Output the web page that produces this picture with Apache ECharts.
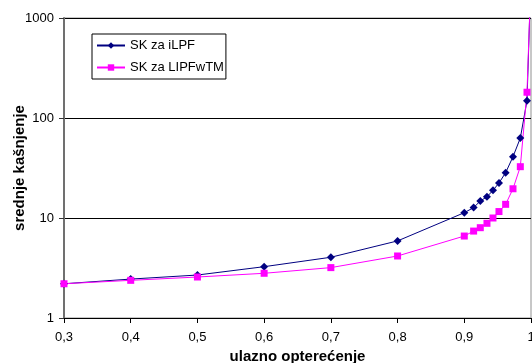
<!DOCTYPE html>
<html><head><meta charset="utf-8">
<script src="https://cdn.jsdelivr.net/npm/echarts@6/dist/echarts.min.js"></script>
<style>html,body{margin:0;padding:0;background:#fff}#c{width:532px;height:363px}</style>
</head><body><div id="c"></div>
<script>
var loadX = [0.3, 0.4, 0.5, 0.6, 0.7, 0.8, 0.9, 0.914, 0.924, 0.934, 0.943, 0.952, 0.962, 0.973, 0.984, 0.994, 1.0];
var skILPF = [2.2, 2.45, 2.69, 3.26, 4.05, 5.9, 11.3, 12.7, 14.8, 16.3, 18.9, 22.4, 28.4, 41, 63, 149, 2700];
var skLIPFwTM = [2.2, 2.38, 2.57, 2.8, 3.19, 4.17, 6.6, 7.4, 8.0, 8.85, 10.0, 11.6, 13.7, 19.6, 32.6, 181, 2600];
var seriesNames = ['SK za iLPF', 'SK za LIPFwTM'];
var xTitle = 'ulazno opterećenje';
var yTitle = 'srednje kašnjenje';

function pairs(xs, ys){ return xs.map(function(x,i){ return [x, ys[i]]; }); }
var font = 'Liberation Sans, Arial, sans-serif';
var chart = echarts.init(document.getElementById('c'), null, {renderer:'canvas'});
chart.setOption({
  animation:false,
  backgroundColor:'#fff',
  grid:{left:64, right:1, top:18, bottom:45, show:true, borderColor:'#909090', borderWidth:1,
        backgroundColor:'transparent', containLabel:false, outerBoundsMode:'none'},
  legend:{
    orient:'vertical', left:92, top:34, itemWidth:28, itemHeight:8, itemGap:9,
    padding:[5,2,5,4], borderColor:'#000', borderWidth:1, backgroundColor:'#fff',
    textStyle:{fontFamily:font, fontSize:13, color:'#000'},
    data:seriesNames
  },
  xAxis:{
    type:'value', min:0.3, max:1.0, interval:0.1,
    name:xTitle, nameLocation:'middle', nameGap:31, nameMoveOverlap:false,
    nameTextStyle:{fontFamily:font, fontSize:15, fontWeight:'bold', color:'#000'},
    axisLine:{lineStyle:{color:'#000', width:1}},
    axisTick:{show:true, length:5, lineStyle:{color:'#000'}},
    axisLabel:{fontFamily:font, fontSize:13, color:'#000', margin:13,
      formatter:function(v){ return (Math.round(v*10)/10 === 1) ? '1' : v.toFixed(1).replace('.', ','); }},
    splitLine:{show:false}
  },
  yAxis:{
    type:'log', logBase:10, min:1, max:1000,
    name:yTitle, nameLocation:'middle', nameGap:37, nameRotate:90, nameMoveOverlap:false,
    nameTextStyle:{fontFamily:font, fontSize:15, fontWeight:'bold', color:'#000'},
    axisLine:{show:true, lineStyle:{color:'#707070', width:2}},
    axisTick:{show:true, length:5, lineStyle:{color:'#333'}},
    minorTick:{show:false},
    axisLabel:{fontFamily:font, fontSize:13, color:'#000', margin:10,
      formatter:function(v){ return String(Math.round(v)); }},
    splitLine:{show:true, lineStyle:{color:'#000', width:1}}
  },
  series:[
    {name:seriesNames[0], type:'line', data:pairs(loadX, skILPF), clip:true,
     symbol:'diamond', symbolSize:8, color:'#000080',
     lineStyle:{color:'#000080', width:1}, itemStyle:{color:'#000080'}},
    {name:seriesNames[1], type:'line', data:pairs(loadX, skLIPFwTM), clip:true,
     symbol:'rect', symbolSize:7, color:'#FF00FF',
     lineStyle:{color:'#FF00FF', width:1}, itemStyle:{color:'#FF00FF'}}
  ]
});
</script></body></html>
